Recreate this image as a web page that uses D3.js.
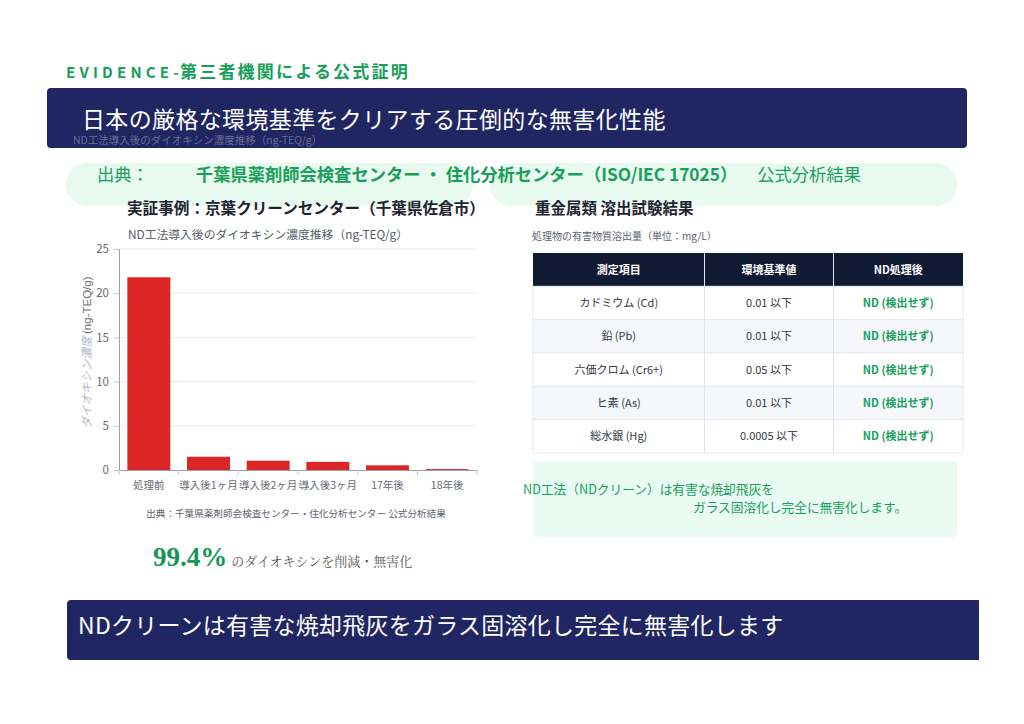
<!DOCTYPE html>
<html>
<head>
<meta charset="utf-8">
<script src="https://cdn.jsdelivr.net/npm/d3@7"></script>
<style>
  html, body { margin: 0; padding: 0; background: #fff; }
  svg { display: block; }
  text { font-family: "Noto Sans CJK JP", "Noto Sans", sans-serif; }
</style>
</head>
<body>
<div id="chart"></div>
<script>
// chart data
const categories = ["処理前", "導入後1ヶ月", "導入後2ヶ月", "導入後3ヶ月", "17年後", "18年後"];
const dioxin = [21.8, 1.5, 1.05, 0.92, 0.53, 0.1];
const yTicks = [0, 5, 10, 15, 20, 25];

// table data
const tableHeaders = ["測定項目", "環境基準値", "ND処理後"];
const tableItems = ["カドミウム (Cd)", "鉛 (Pb)", "六価クロム (Cr6+)", "ヒ素 (As)", "総水銀 (Hg)"];
const tableStandards = ["0.01 以下", "0.01 以下", "0.05 以下", "0.01 以下", "0.0005 以下"];
const tableResults = ["ND (検出せず)", "ND (検出せず)", "ND (検出せず)", "ND (検出せず)", "ND (検出せず)"];

const green = "#17a05a";
const navy = "#202662";

const svg = d3.select("#chart")
    .append("svg")
    .attr("width", 1024)
    .attr("height", 724);

// ---- header ----
svg.append("text")
    .attr("x", 66).attr("y", 78)
    .attr("fill", green)
    .attr("font-size", 15)
    .attr("font-weight", "bold")
    .attr("letter-spacing", 4.2)
    .text("EVIDENCE-");
svg.append("text")
    .attr("x", 180).attr("y", 78)
    .attr("fill", green)
    .attr("font-size", 17)
    .attr("font-weight", "bold")
    .attr("letter-spacing", 2.2)
    .text("第三者機関による公式証明");

svg.append("rect")
    .attr("x", 47).attr("y", 88)
    .attr("width", 920).attr("height", 60)
    .attr("rx", 4)
    .attr("fill", navy);
svg.append("text")
    .attr("x", 82).attr("y", 128)
    .attr("fill", "#fff")
    .attr("font-size", 23)
    .attr("letter-spacing", 0.35)
    .text("日本の厳格な環境基準をクリアする圧倒的な無害化性能");
svg.append("text")
    .attr("x", 73).attr("y", 144)
    .attr("fill", "#9aa0bf")
    .attr("fill-opacity", 0.6)
    .attr("font-size", 10.5)
    .text("ND工法導入後のダイオキシン濃度推移（ng-TEQ/g）");

// source pills
[[66, 407], [490, 467]].forEach(([x, w]) => {
    svg.append("rect")
        .attr("x", x).attr("y", 163)
        .attr("width", w).attr("height", 43)
        .attr("rx", 21)
        .attr("fill", "#e8faf0");
});
const src = svg.append("text")
    .attr("x", 97).attr("y", 181)
    .attr("fill", green)
    .attr("font-size", 17.3);
src.append("tspan").text("出典：");
src.append("tspan").attr("dx", 47).attr("font-weight", "bold").text("千葉県薬剤師会検査センター ・ 住化分析センター（ISO/IEC 17025）");
src.append("tspan").attr("dx", 20).text("公式分析結果");

// ---- left: bar chart ----
svg.append("text")
    .attr("x", 127).attr("y", 214)
    .attr("fill", "#1f2330")
    .attr("font-size", 15.6)
    .attr("font-weight", "bold")
    .text("実証事例：京葉クリーンセンター（千葉県佐倉市）");
svg.append("text")
    .attr("x", 128).attr("y", 239)
    .attr("fill", "#555b66")
    .attr("font-size", 11.8)
    .text("ND工法導入後のダイオキシン濃度推移（ng-TEQ/g）");

const plot = {left: 119, right: 477, top: 249, bottom: 470};
const x = d3.scaleBand()
    .domain(categories)
    .range([plot.left, plot.right])
    .paddingInner(0.28)
    .paddingOuter(0.14);
const y = d3.scaleLinear()
    .domain([0, 25])
    .range([plot.bottom, plot.top]);

// grid
svg.append("g")
    .selectAll("line")
    .data(yTicks.slice(1))
    .join("line")
    .attr("x1", plot.left).attr("x2", plot.right)
    .attr("y1", d => y(d)).attr("y2", d => y(d))
    .attr("stroke", "#e9ecf3")
    .attr("stroke-width", 1);

// y axis
const yAxis = svg.append("g")
    .attr("transform", `translate(${plot.left},0)`)
    .call(d3.axisLeft(y).tickValues(yTicks).tickSize(5).tickPadding(5));
yAxis.select(".domain").attr("stroke", "#9a9ea6");
yAxis.selectAll(".tick line").attr("stroke", "#c4c7cc");
yAxis.selectAll(".tick text")
    .attr("fill", "#666a72")
    .attr("font-size", 11.5)
    .attr("font-family", "'Liberation Sans', Arial, sans-serif");

// x axis with ticks on category boundaries
const xAxis = svg.append("g")
    .attr("transform", `translate(0,${plot.bottom})`)
    .call(d3.axisBottom(x).tickSize(0).tickPadding(12));
xAxis.select(".domain").attr("stroke", "#9a9ea6");
xAxis.selectAll(".tick text")
    .attr("fill", "#666a72")
    .attr("font-size", 10.5)
    .attr("font-family", "'Liberation Sans', 'Noto Sans CJK JP', sans-serif");
const bounds = categories.map(c => x(c) - x.step() * x.paddingInner() / 2).concat([plot.right]);
xAxis.selectAll("line.bound")
    .data(bounds)
    .join("line")
    .attr("class", "bound")
    .attr("x1", d => d).attr("x2", d => d)
    .attr("y1", 0).attr("y2", 5)
    .attr("stroke", "#c4c7cc");

// bars
svg.append("g")
    .selectAll("rect")
    .data(dioxin)
    .join("rect")
    .attr("x", (d, i) => x(categories[i]))
    .attr("y", d => y(d))
    .attr("width", x.bandwidth())
    .attr("height", d => y(0) - y(d))
    .attr("fill", "#dc2626");

// y label
const yl = svg.append("text")
    .attr("transform", `translate(91,${(plot.top + plot.bottom) / 2 - 7}) rotate(-90)`)
    .attr("text-anchor", "middle")
    .attr("font-size", 11.5);
yl.append("tspan").attr("fill", "#b3b8c2").attr("font-style", "italic").text("ダイオキシン濃度 ");
yl.append("tspan").attr("fill", "#6b7079").attr("font-family", "'Liberation Sans', sans-serif").text("(ng-TEQ/g)");

svg.append("text")
    .attr("x", 296).attr("y", 517)
    .attr("text-anchor", "middle")
    .attr("fill", "#5b6170")
    .attr("font-size", 9.6)
    .text("出典：千葉県薬剤師会検査センター・住化分析センター 公式分析結果");

const pct = svg.append("text")
    .attr("x", 153).attr("y", 566);
pct.append("tspan")
    .attr("fill", "#14965a")
    .attr("font-size", 27)
    .attr("font-weight", "bold")
    .attr("font-family", "'Liberation Serif', 'DejaVu Serif', serif")
    .text("99.4%");
pct.append("tspan")
    .attr("dx", 4)
    .attr("fill", "#555")
    .attr("font-size", 13)
    .attr("font-family", "'Noto Serif CJK JP', 'Liberation Serif', serif")
    .text("のダイオキシンを削減・無害化");

// ---- right: table ----
svg.append("text")
    .attr("x", 535).attr("y", 214)
    .attr("fill", "#1f2330")
    .attr("font-size", 15.5)
    .attr("font-weight", "bold")
    .text("重金属類 溶出試験結果");
svg.append("text")
    .attr("x", 532).attr("y", 240)
    .attr("fill", "#5b6170")
    .attr("font-size", 10)
    .text("処理物の有害物質溶出量（単位：mg/L）");

const colEdges = [533, 704.5, 833.5, 963];
const rowY = d3.scaleBand()
    .domain(d3.range(tableItems.length + 1))
    .range([253, 453]);
const table = svg.append("g");

table.append("rect")
    .attr("x", colEdges[0]).attr("y", rowY(0))
    .attr("width", colEdges[3] - colEdges[0]).attr("height", rowY.bandwidth())
    .attr("fill", "#111a33");
table.selectAll("text.head")
    .data(tableHeaders)
    .join("text")
    .attr("class", "head")
    .attr("x", (d, i) => (colEdges[i] + colEdges[i + 1]) / 2)
    .attr("y", rowY(0) + rowY.bandwidth() / 2 + 4)
    .attr("text-anchor", "middle")
    .attr("fill", "#fff")
    .attr("font-size", 11)
    .attr("font-weight", "bold")
    .text(d => d);

const rows = table.selectAll("g.row")
    .data(tableItems.map((item, i) => [item, tableStandards[i], tableResults[i]]))
    .join("g")
    .attr("class", "row")
    .attr("transform", (d, i) => `translate(0,${rowY(i + 1)})`);
rows.append("rect")
    .attr("x", colEdges[0])
    .attr("width", colEdges[3] - colEdges[0])
    .attr("height", rowY.bandwidth())
    .attr("fill", (d, i) => i % 2 ? "#f5f7fa" : "#fff")
    .attr("stroke", "#e6e9ef");
rows.selectAll("text")
    .data(d => d)
    .join("text")
    .attr("x", (d, i) => (colEdges[i] + colEdges[i + 1]) / 2)
    .attr("y", rowY.bandwidth() / 2 + 4)
    .attr("text-anchor", "middle")
    .attr("fill", (d, i) => i === 2 ? green : "#333842")
    .attr("font-weight", (d, i) => i === 2 ? "bold" : "normal")
    .attr("font-size", 11)
    .text(d => d);
// column separators
table.selectAll("line.col")
    .data(colEdges.slice(1, 3))
    .join("line")
    .attr("class", "col")
    .attr("x1", d => d).attr("x2", d => d)
    .attr("y1", 253).attr("y2", 453)
    .attr("stroke", "#e1e4ea");

// note box
svg.append("rect")
    .attr("x", 533).attr("y", 461)
    .attr("width", 424).attr("height", 76)
    .attr("rx", 4)
    .attr("fill", "#e9fbf2");
svg.append("text")
    .attr("x", 523).attr("y", 494)
    .attr("fill", green)
    .attr("font-size", 12.7)
    .text("ND工法（NDクリーン）は有害な焼却飛灰を");
svg.append("text")
    .attr("x", 693).attr("y", 512)
    .attr("fill", green)
    .attr("font-size", 12.7)
    .text("ガラス固溶化し完全に無害化します。");

// ---- bottom banner ----
svg.append("path")
    .attr("d", "M71,600 H979 V660 H71 Q67,660 67,656 V604 Q67,600 71,600 Z")
    .attr("fill", navy);
svg.append("text")
    .attr("x", 78).attr("y", 634)
    .attr("fill", "#fff")
    .attr("font-size", 23)
    .attr("letter-spacing", 0.25)
    .text("NDクリーンは有害な焼却飛灰をガラス固溶化し完全に無害化します");
</script>
</body>
</html>
